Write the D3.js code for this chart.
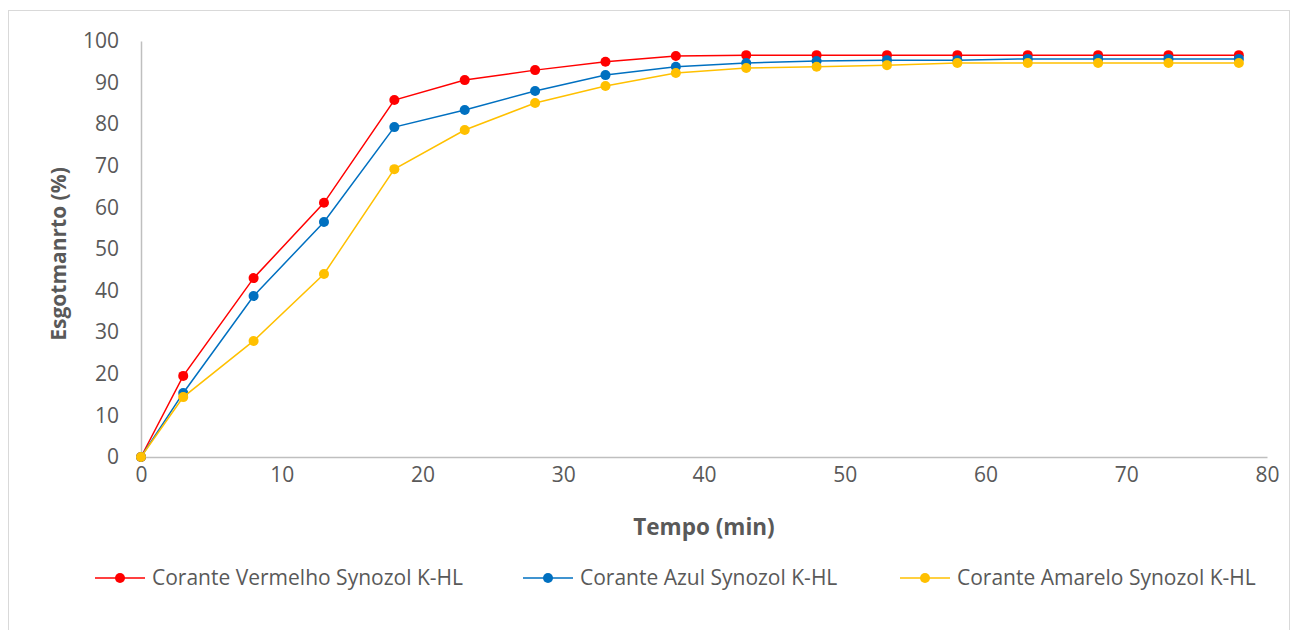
<!DOCTYPE html>
<html>
<head>
<meta charset="utf-8">
<script src="https://cdn.jsdelivr.net/npm/d3@7"></script>
<style>
  body { margin: 0; background: #fff; }
  text { font-family: "Open Sans", sans-serif; fill: #595959; }
</style>
</head>
<body>
<div id="chart"></div>
<script>
// data
var tempo = [0, 3, 8, 13, 18, 23, 28, 33, 38, 43, 48, 53, 58, 63, 68, 73, 78];
var vermelho = [0, 19.5, 43.0, 61.1, 85.8, 90.6, 93.0, 95.0, 96.4, 96.6, 96.6, 96.6, 96.6, 96.6, 96.6, 96.6, 96.6];
var azul = [0, 15.4, 38.7, 56.5, 79.3, 83.4, 88.0, 91.8, 93.8, 94.7, 95.2, 95.4, 95.4, 95.7, 95.7, 95.7, 95.7];
var amarelo = [0, 14.4, 27.9, 44.0, 69.2, 78.6, 85.1, 89.2, 92.3, 93.5, 93.8, 94.2, 94.7, 94.7, 94.7, 94.7, 94.7];
var seriesNames = ["Corante Vermelho Synozol K-HL", "Corante Azul Synozol K-HL", "Corante Amarelo Synozol K-HL"];
var xTicks = [0, 10, 20, 30, 40, 50, 60, 70, 80];
var yTicks = [0, 10, 20, 30, 40, 50, 60, 70, 80, 90, 100];

function init()
{
  var w = 1296, h = 630;
  var colors = ["#FF0000", "#0070C0", "#FFC000"];
  var seriesValues = [vermelho, azul, amarelo];

  var svg = d3.select("#chart").append("svg")
      .attr("width", w).attr("height", h);

  // chart border
  svg.append("rect")
      .attr("x", 8.5).attr("y", 10.5)
      .attr("width", 1281).attr("height", 640)
      .attr("fill", "none").attr("stroke", "#d9d9d9");

  var x = d3.scaleLinear().domain([0, 80]).range([141, 1267]);
  var y = d3.scaleLinear().domain([0, 100]).range([457, 41]);

  // axes
  var xAxis = svg.append("g")
      .attr("transform", "translate(0," + y(0) + ")")
      .call(d3.axisBottom(x).tickValues(xTicks).tickSize(0).tickPadding(21));
  var yAxis = svg.append("g")
      .attr("transform", "translate(" + x(0) + ",0)")
      .call(d3.axisLeft(y).tickValues(yTicks).tickSize(0).tickPadding(22));

  [xAxis, yAxis].forEach(function(g){
    g.select(".domain").attr("stroke", "#bfbfbf").attr("stroke-width", 1.5);
    g.selectAll("text").attr("font-size", 21).style("fill", "#595959")
        .style("font-family", "'Open Sans', sans-serif");
  });
  xAxis.selectAll("text").attr("dy", "0.2em");

  // axis titles
  svg.append("text")
      .attr("x", 704).attr("y", 535)
      .attr("text-anchor", "middle")
      .attr("font-size", 22.5).attr("font-weight", "bold")
      .text("Tempo (min)");
  svg.append("text")
      .attr("transform", "translate(66,254) rotate(-90)")
      .attr("text-anchor", "middle")
      .attr("font-size", 21).attr("font-weight", "bold")
      .text("Esgotmanrto (%)");

  var line = d3.line()
      .x(function(d){ return x(d[0]); })
      .y(function(d){ return y(d[1]); });

  seriesValues.forEach(function(vals, s){
    var pts = tempo.map(function(t, i){ return [t, vals[i]]; });
    var g = svg.append("g");
    g.append("path")
        .datum(pts)
        .attr("d", line)
        .attr("fill", "none")
        .attr("stroke", colors[s])
        .attr("stroke-width", 1.5);
    g.selectAll("circle")
        .data(pts)
        .enter()
        .append("circle")
        .attr("cx", function(d){ return x(d[0]); })
        .attr("cy", function(d){ return y(d[1]); })
        .attr("r", 5)
        .attr("fill", colors[s]);
  });

  // legend
  var legendX = [95, 523, 900];
  seriesNames.forEach(function(name, s){
    var lg = svg.append("g").attr("transform", "translate(" + legendX[s] + ",578)");
    lg.append("line").attr("x1", 0).attr("x2", 50).attr("y1", 0).attr("y2", 0)
        .attr("stroke", colors[s]).attr("stroke-width", 1.5);
    lg.append("circle").attr("cx", 25).attr("cy", 0).attr("r", 5).attr("fill", colors[s]);
    lg.append("text").attr("x", 57).attr("y", 0).attr("dy", "0.35em")
        .attr("font-size", 21).text(name);
  });
}

window.onload = init;
</script>
</body>
</html>
